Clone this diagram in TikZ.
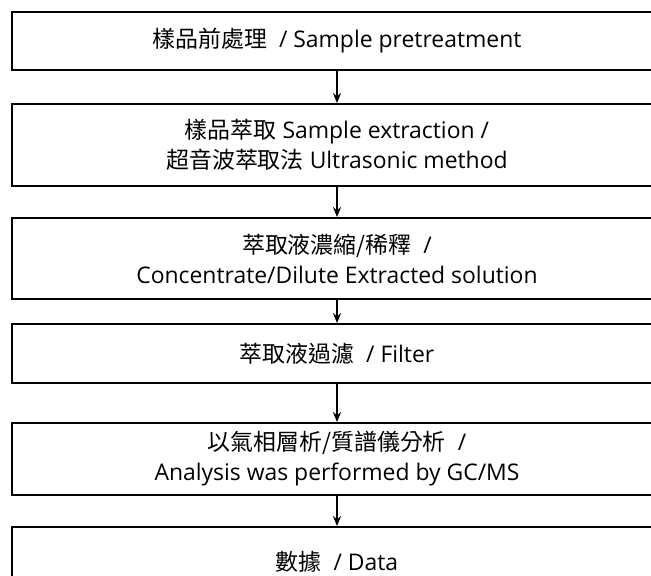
\documentclass[tikz,border=0pt]{standalone}
\usepackage{fontspec}
\setmainfont{Open Sans}
\newfontfamily\cjk{Noto Sans CJK TC}
\usetikzlibrary{arrows.meta, positioning}
\newcommand\stagefont{\fontsize{23}{30}\selectfont}

\begin{document}
\begin{tikzpicture}[x=1bp, y=-1bp,
    stagebox/.style={draw, line width=1.8bp, minimum width=650bp, inner sep=0pt, align=center, font=\stagefont},
    flow/.style={-{Stealth[length=10bp,width=8bp]}, line width=1.8bp}]
		\useasboundingbox (0,0) rectangle (651,576);
		\clip (0,0) rectangle (651,576);
		\draw (337,41) node[stagebox, minimum height=58bp] (pre) {{\cjk 樣品前處理}\ \ / Sample pretreatment}
		(337,145) node[stagebox, minimum height=82bp] (extr) {{\cjk 樣品萃取} Sample extraction /\\{\cjk 超音波萃取法} Ultrasonic method}
		(337,258.5) node[stagebox, minimum height=81bp] (conc) {{\cjk 萃取液濃縮/稀釋}\ \ /\\Concentrate/Dilute Extracted solution}
		(337,353.5) node[stagebox, minimum height=59bp] (filt) {{\cjk 萃取液過濾}\ \ / Filter}
		(337,459) node[stagebox, minimum height=72bp] (gcms) {{\cjk 以氣相層析/質譜儀分析}\ \ /\\Analysis was performed by GC/MS}
		(337,562) node[stagebox, minimum height=70bp] (data) {{\cjk 數據}\ \ / Data};
		
		\draw[flow] (pre) -- (extr);
		\draw[flow] (extr) -- (conc);
		\draw[flow] (conc) -- (filt);
		\draw[flow] (filt) -- (gcms);
		\draw[flow] (gcms) -- (data);
	\end{tikzpicture}
\end{document}
